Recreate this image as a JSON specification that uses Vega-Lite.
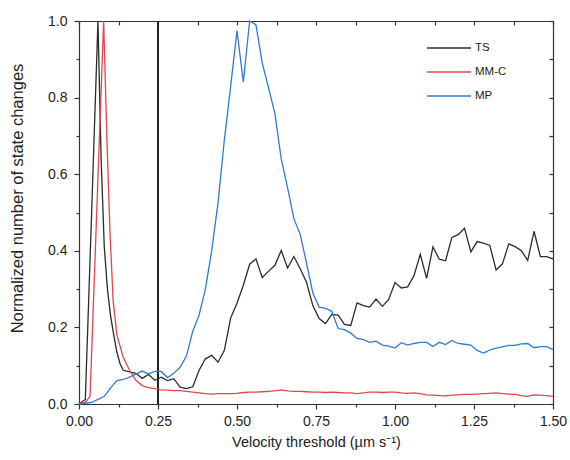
{
  "$schema": "https://vega.github.io/schema/vega-lite/v6.json",
  "width": 474,
  "height": 383,
  "autosize": {"type": "none"},
  "padding": {"left": 79, "top": 21, "right": 17, "bottom": 56},
  "background": "white",
  "config": {
    "view": {"stroke": null},
    "font": "Liberation Sans",
    "axis": {
      "grid": false,
      "labelFlush": false,
      "labelOverlap": false,
      "domainColor": "#333333",
      "domainWidth": 1.2,
      "tickColor": "#333333",
      "tickWidth": 1.2,
      "labelColor": "#222222",
      "titleColor": "#222222",
      "labelFont": "Liberation Sans",
      "titleFont": "Liberation Sans",
      "labelFontSize": 14,
      "titleFontSize": 14.5,
      "titleFontWeight": "normal"
    }
  },
  "datasets": {
    "main": [
      {"x": 0, "y": 0, "s": "TS"}, {"x": 0.02, "y": 0.012, "s": "TS"}, {"x": 0.04, "y": 0.5, "s": "TS"}, {"x": 0.06, "y": 1.0, "s": "TS"}, {"x": 0.07, "y": 0.64, "s": "TS"}, {"x": 0.08, "y": 0.41, "s": "TS"}, {"x": 0.09, "y": 0.3, "s": "TS"}, {"x": 0.1, "y": 0.23, "s": "TS"}, {"x": 0.11, "y": 0.18, "s": "TS"}, {"x": 0.12, "y": 0.135, "s": "TS"}, {"x": 0.13, "y": 0.105, "s": "TS"}, {"x": 0.14, "y": 0.088, "s": "TS"}, {"x": 0.16, "y": 0.084, "s": "TS"}, {"x": 0.18, "y": 0.08, "s": "TS"}, {"x": 0.2, "y": 0.067, "s": "TS"}, {"x": 0.22, "y": 0.077, "s": "TS"}, {"x": 0.24, "y": 0.062, "s": "TS"}, {"x": 0.26, "y": 0.07, "s": "TS"}, {"x": 0.28, "y": 0.061, "s": "TS"}, {"x": 0.3, "y": 0.066, "s": "TS"}, {"x": 0.32, "y": 0.044, "s": "TS"}, {"x": 0.34, "y": 0.04, "s": "TS"}, {"x": 0.36, "y": 0.045, "s": "TS"}, {"x": 0.38, "y": 0.088, "s": "TS"}, {"x": 0.4, "y": 0.118, "s": "TS"}, {"x": 0.42, "y": 0.127, "s": "TS"}, {"x": 0.44, "y": 0.109, "s": "TS"}, {"x": 0.46, "y": 0.14, "s": "TS"}, {"x": 0.48, "y": 0.225, "s": "TS"}, {"x": 0.5, "y": 0.263, "s": "TS"}, {"x": 0.52, "y": 0.31, "s": "TS"}, {"x": 0.54, "y": 0.365, "s": "TS"}, {"x": 0.56, "y": 0.379, "s": "TS"}, {"x": 0.58, "y": 0.33, "s": "TS"}, {"x": 0.6, "y": 0.347, "s": "TS"}, {"x": 0.62, "y": 0.362, "s": "TS"}, {"x": 0.64, "y": 0.401, "s": "TS"}, {"x": 0.66, "y": 0.355, "s": "TS"}, {"x": 0.68, "y": 0.385, "s": "TS"}, {"x": 0.7, "y": 0.353, "s": "TS"}, {"x": 0.72, "y": 0.318, "s": "TS"}, {"x": 0.74, "y": 0.257, "s": "TS"}, {"x": 0.76, "y": 0.223, "s": "TS"}, {"x": 0.78, "y": 0.21, "s": "TS"}, {"x": 0.8, "y": 0.234, "s": "TS"}, {"x": 0.82, "y": 0.232, "s": "TS"}, {"x": 0.84, "y": 0.208, "s": "TS"}, {"x": 0.86, "y": 0.205, "s": "TS"}, {"x": 0.88, "y": 0.264, "s": "TS"}, {"x": 0.9, "y": 0.257, "s": "TS"}, {"x": 0.92, "y": 0.253, "s": "TS"}, {"x": 0.94, "y": 0.274, "s": "TS"}, {"x": 0.96, "y": 0.255, "s": "TS"}, {"x": 0.98, "y": 0.273, "s": "TS"}, {"x": 1.0, "y": 0.317, "s": "TS"}, {"x": 1.02, "y": 0.303, "s": "TS"}, {"x": 1.04, "y": 0.306, "s": "TS"}, {"x": 1.06, "y": 0.335, "s": "TS"}, {"x": 1.08, "y": 0.391, "s": "TS"}, {"x": 1.1, "y": 0.328, "s": "TS"}, {"x": 1.12, "y": 0.41, "s": "TS"}, {"x": 1.14, "y": 0.378, "s": "TS"}, {"x": 1.16, "y": 0.374, "s": "TS"}, {"x": 1.18, "y": 0.435, "s": "TS"}, {"x": 1.2, "y": 0.442, "s": "TS"}, {"x": 1.22, "y": 0.459, "s": "TS"}, {"x": 1.24, "y": 0.397, "s": "TS"}, {"x": 1.26, "y": 0.424, "s": "TS"}, {"x": 1.28, "y": 0.42, "s": "TS"}, {"x": 1.3, "y": 0.414, "s": "TS"}, {"x": 1.32, "y": 0.35, "s": "TS"}, {"x": 1.34, "y": 0.366, "s": "TS"}, {"x": 1.36, "y": 0.418, "s": "TS"}, {"x": 1.38, "y": 0.411, "s": "TS"}, {"x": 1.4, "y": 0.4, "s": "TS"}, {"x": 1.42, "y": 0.375, "s": "TS"}, {"x": 1.44, "y": 0.451, "s": "TS"}, {"x": 1.46, "y": 0.385, "s": "TS"}, {"x": 1.48, "y": 0.385, "s": "TS"}, {"x": 1.5, "y": 0.379, "s": "TS"},

      {"x": 0, "y": 0, "s": "MM-C"}, {"x": 0.02, "y": 0.004, "s": "MM-C"}, {"x": 0.035, "y": 0.02, "s": "MM-C"}, {"x": 0.078, "y": 1.0, "s": "MM-C"}, {"x": 0.088, "y": 0.7, "s": "MM-C"}, {"x": 0.098, "y": 0.45, "s": "MM-C"}, {"x": 0.108, "y": 0.27, "s": "MM-C"}, {"x": 0.12, "y": 0.18, "s": "MM-C"}, {"x": 0.14, "y": 0.122, "s": "MM-C"}, {"x": 0.16, "y": 0.088, "s": "MM-C"}, {"x": 0.18, "y": 0.062, "s": "MM-C"}, {"x": 0.2, "y": 0.048, "s": "MM-C"}, {"x": 0.22, "y": 0.043, "s": "MM-C"}, {"x": 0.24, "y": 0.04, "s": "MM-C"}, {"x": 0.26, "y": 0.037, "s": "MM-C"}, {"x": 0.28, "y": 0.036, "s": "MM-C"}, {"x": 0.3, "y": 0.035, "s": "MM-C"}, {"x": 0.32, "y": 0.035, "s": "MM-C"}, {"x": 0.34, "y": 0.033, "s": "MM-C"}, {"x": 0.36, "y": 0.031, "s": "MM-C"}, {"x": 0.38, "y": 0.029, "s": "MM-C"}, {"x": 0.4, "y": 0.027, "s": "MM-C"}, {"x": 0.42, "y": 0.026, "s": "MM-C"}, {"x": 0.44, "y": 0.027, "s": "MM-C"}, {"x": 0.46, "y": 0.027, "s": "MM-C"}, {"x": 0.48, "y": 0.027, "s": "MM-C"}, {"x": 0.5, "y": 0.028, "s": "MM-C"}, {"x": 0.52, "y": 0.03, "s": "MM-C"}, {"x": 0.54, "y": 0.031, "s": "MM-C"}, {"x": 0.56, "y": 0.031, "s": "MM-C"}, {"x": 0.58, "y": 0.032, "s": "MM-C"}, {"x": 0.6, "y": 0.033, "s": "MM-C"}, {"x": 0.62, "y": 0.034, "s": "MM-C"}, {"x": 0.64, "y": 0.037, "s": "MM-C"}, {"x": 0.66, "y": 0.034, "s": "MM-C"}, {"x": 0.68, "y": 0.033, "s": "MM-C"}, {"x": 0.7, "y": 0.033, "s": "MM-C"}, {"x": 0.72, "y": 0.032, "s": "MM-C"}, {"x": 0.74, "y": 0.031, "s": "MM-C"}, {"x": 0.76, "y": 0.031, "s": "MM-C"}, {"x": 0.78, "y": 0.03, "s": "MM-C"}, {"x": 0.8, "y": 0.031, "s": "MM-C"}, {"x": 0.82, "y": 0.03, "s": "MM-C"}, {"x": 0.84, "y": 0.029, "s": "MM-C"}, {"x": 0.86, "y": 0.029, "s": "MM-C"}, {"x": 0.88, "y": 0.027, "s": "MM-C"}, {"x": 0.9, "y": 0.029, "s": "MM-C"}, {"x": 0.92, "y": 0.031, "s": "MM-C"}, {"x": 0.94, "y": 0.031, "s": "MM-C"}, {"x": 0.96, "y": 0.03, "s": "MM-C"}, {"x": 0.98, "y": 0.031, "s": "MM-C"}, {"x": 1.0, "y": 0.031, "s": "MM-C"}, {"x": 1.02, "y": 0.029, "s": "MM-C"}, {"x": 1.04, "y": 0.028, "s": "MM-C"}, {"x": 1.06, "y": 0.029, "s": "MM-C"}, {"x": 1.08, "y": 0.027, "s": "MM-C"}, {"x": 1.1, "y": 0.024, "s": "MM-C"}, {"x": 1.12, "y": 0.023, "s": "MM-C"}, {"x": 1.14, "y": 0.022, "s": "MM-C"}, {"x": 1.16, "y": 0.021, "s": "MM-C"}, {"x": 1.18, "y": 0.023, "s": "MM-C"}, {"x": 1.2, "y": 0.024, "s": "MM-C"}, {"x": 1.22, "y": 0.025, "s": "MM-C"}, {"x": 1.24, "y": 0.025, "s": "MM-C"}, {"x": 1.26, "y": 0.026, "s": "MM-C"}, {"x": 1.28, "y": 0.027, "s": "MM-C"}, {"x": 1.3, "y": 0.028, "s": "MM-C"}, {"x": 1.32, "y": 0.029, "s": "MM-C"}, {"x": 1.34, "y": 0.027, "s": "MM-C"}, {"x": 1.36, "y": 0.026, "s": "MM-C"}, {"x": 1.38, "y": 0.025, "s": "MM-C"}, {"x": 1.4, "y": 0.022, "s": "MM-C"}, {"x": 1.42, "y": 0.02, "s": "MM-C"}, {"x": 1.44, "y": 0.024, "s": "MM-C"}, {"x": 1.46, "y": 0.023, "s": "MM-C"}, {"x": 1.48, "y": 0.022, "s": "MM-C"}, {"x": 1.5, "y": 0.02, "s": "MM-C"},

      {"x": 0, "y": 0, "s": "MP"}, {"x": 0.02, "y": 0.002, "s": "MP"}, {"x": 0.04, "y": 0.004, "s": "MP"}, {"x": 0.06, "y": 0.012, "s": "MP"}, {"x": 0.08, "y": 0.02, "s": "MP"}, {"x": 0.1, "y": 0.042, "s": "MP"}, {"x": 0.12, "y": 0.061, "s": "MP"}, {"x": 0.14, "y": 0.064, "s": "MP"}, {"x": 0.16, "y": 0.07, "s": "MP"}, {"x": 0.18, "y": 0.078, "s": "MP"}, {"x": 0.2, "y": 0.086, "s": "MP"}, {"x": 0.22, "y": 0.079, "s": "MP"}, {"x": 0.24, "y": 0.085, "s": "MP"}, {"x": 0.26, "y": 0.085, "s": "MP"}, {"x": 0.28, "y": 0.069, "s": "MP"}, {"x": 0.3, "y": 0.08, "s": "MP"}, {"x": 0.32, "y": 0.096, "s": "MP"}, {"x": 0.34, "y": 0.125, "s": "MP"}, {"x": 0.36, "y": 0.19, "s": "MP"}, {"x": 0.38, "y": 0.232, "s": "MP"}, {"x": 0.4, "y": 0.3, "s": "MP"}, {"x": 0.42, "y": 0.401, "s": "MP"}, {"x": 0.44, "y": 0.525, "s": "MP"}, {"x": 0.46, "y": 0.69, "s": "MP"}, {"x": 0.48, "y": 0.83, "s": "MP"}, {"x": 0.5, "y": 0.975, "s": "MP"}, {"x": 0.52, "y": 0.84, "s": "MP"}, {"x": 0.54, "y": 1.0, "s": "MP"}, {"x": 0.56, "y": 0.99, "s": "MP"}, {"x": 0.58, "y": 0.89, "s": "MP"}, {"x": 0.6, "y": 0.825, "s": "MP"}, {"x": 0.62, "y": 0.758, "s": "MP"}, {"x": 0.64, "y": 0.64, "s": "MP"}, {"x": 0.66, "y": 0.565, "s": "MP"}, {"x": 0.68, "y": 0.484, "s": "MP"}, {"x": 0.7, "y": 0.443, "s": "MP"}, {"x": 0.72, "y": 0.368, "s": "MP"}, {"x": 0.74, "y": 0.29, "s": "MP"}, {"x": 0.76, "y": 0.253, "s": "MP"}, {"x": 0.78, "y": 0.25, "s": "MP"}, {"x": 0.8, "y": 0.242, "s": "MP"}, {"x": 0.82, "y": 0.197, "s": "MP"}, {"x": 0.84, "y": 0.194, "s": "MP"}, {"x": 0.86, "y": 0.185, "s": "MP"}, {"x": 0.88, "y": 0.171, "s": "MP"}, {"x": 0.9, "y": 0.168, "s": "MP"}, {"x": 0.92, "y": 0.161, "s": "MP"}, {"x": 0.94, "y": 0.164, "s": "MP"}, {"x": 0.96, "y": 0.154, "s": "MP"}, {"x": 0.98, "y": 0.151, "s": "MP"}, {"x": 1.0, "y": 0.146, "s": "MP"}, {"x": 1.02, "y": 0.16, "s": "MP"}, {"x": 1.04, "y": 0.154, "s": "MP"}, {"x": 1.06, "y": 0.158, "s": "MP"}, {"x": 1.08, "y": 0.161, "s": "MP"}, {"x": 1.1, "y": 0.161, "s": "MP"}, {"x": 1.12, "y": 0.15, "s": "MP"}, {"x": 1.14, "y": 0.161, "s": "MP"}, {"x": 1.16, "y": 0.155, "s": "MP"}, {"x": 1.18, "y": 0.166, "s": "MP"}, {"x": 1.2, "y": 0.158, "s": "MP"}, {"x": 1.22, "y": 0.156, "s": "MP"}, {"x": 1.24, "y": 0.154, "s": "MP"}, {"x": 1.26, "y": 0.14, "s": "MP"}, {"x": 1.28, "y": 0.133, "s": "MP"}, {"x": 1.3, "y": 0.141, "s": "MP"}, {"x": 1.32, "y": 0.146, "s": "MP"}, {"x": 1.34, "y": 0.149, "s": "MP"}, {"x": 1.36, "y": 0.153, "s": "MP"}, {"x": 1.38, "y": 0.153, "s": "MP"}, {"x": 1.4, "y": 0.157, "s": "MP"}, {"x": 1.42, "y": 0.158, "s": "MP"}, {"x": 1.44, "y": 0.147, "s": "MP"}, {"x": 1.46, "y": 0.15, "s": "MP"}, {"x": 1.48, "y": 0.15, "s": "MP"}, {"x": 1.5, "y": 0.142, "s": "MP"}
    ]
  },
  "data": {"name": "main"},
  "layer": [
    {
      "mark": {"type": "point", "opacity": 0},
      "encoding": {
        "x": {"field": "x", "type": "quantitative", "scale": {"domain": [0, 1.5], "nice": false, "zero": false, "padding": 0},
          "axis": {"orient": "bottom", "values": [0.125, 0.375, 0.625, 0.875, 1.125, 1.375], "labels": false, "title": null, "domain": false, "tickSize": 3}},
        "y": {"field": "y", "type": "quantitative", "scale": {"domain": [0, 1], "nice": false, "padding": 0},
          "axis": {"orient": "left", "values": [0.1, 0.3, 0.5, 0.7, 0.9], "labels": false, "title": null, "domain": false, "tickSize": 3}}
      }
    },
    {
      "mark": {"type": "point", "opacity": 0},
      "encoding": {
        "x": {"field": "x", "type": "quantitative",
          "axis": {"orient": "top", "values": [0, 0.125, 0.25, 0.375, 0.5, 0.625, 0.75, 0.875, 1, 1.125, 1.25, 1.375, 1.5], "labels": false, "title": null, "tickSize": -4}},
        "y": {"field": "y", "type": "quantitative",
          "axis": {"orient": "right", "values": [0, 0.1, 0.2, 0.3, 0.4, 0.5, 0.6, 0.7, 0.8, 0.9, 1], "labels": false, "title": null, "tickSize": -4}}
      }
    },
    {
      "mark": {"type": "rule", "color": "#222222", "strokeWidth": 1.3},
      "encoding": {"x": {"datum": 0.25, "type": "quantitative", "axis": null}}
    },
    {
      "mark": {"type": "line", "strokeWidth": 1.3},
      "encoding": {
        "x": {"field": "x", "type": "quantitative",
          "axis": {"orient": "bottom", "values": [0, 0.25, 0.5, 0.75, 1, 1.25, 1.5], "format": ".2f", "title": "Velocity threshold (µm s⁻¹)", "tickSize": 5, "labelPadding": 5, "titlePadding": 7}},
        "y": {"field": "y", "type": "quantitative",
          "axis": {"orient": "left", "values": [0, 0.2, 0.4, 0.6, 0.8, 1], "format": ".1f", "title": "Normalized number of state changes", "tickSize": 5, "labelPadding": 7, "titleFontSize": 16.5, "titleX": -54, "titleY": 177}},
        "color": {"field": "s", "type": "nominal",
          "scale": {"domain": ["TS", "MM-C", "MP"], "range": ["#2b2b2b", "#e0474c", "#2f7bd1"]},
          "legend": {"orient": "none", "legendX": 358, "legendY": 15, "title": null, "symbolType": "M-2,0H2", "symbolSize": 484, "symbolStrokeWidth": 1.4, "labelOffset": 14, "labelFontSize": 11.5, "labelFont": "Liberation Sans", "labelColor": "#222222", "rowPadding": 6, "padding": 0}}
      }
    }
  ],
  "resolve": {"axis": {"x": "independent", "y": "independent"}}
}
